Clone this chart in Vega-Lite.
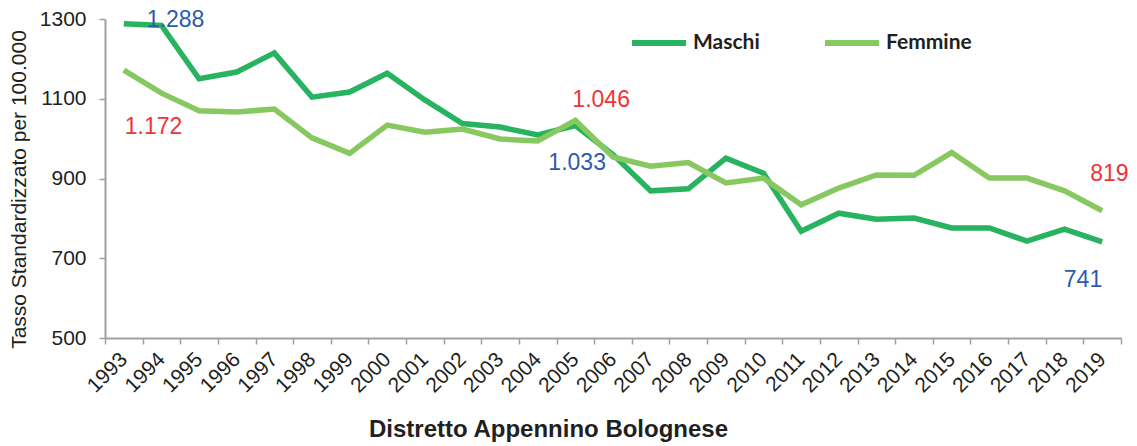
{
  "$schema": "https://vega.github.io/schema/vega-lite/v6.json",
  "width": 1016,
  "height": 319,
  "autosize": "none",
  "padding": {"left": 105, "top": 19, "right": 16, "bottom": 108},
  "background": "white",
  "config": {
    "view": {"stroke": null},
    "font": "Liberation Sans"
  },
  "datasets": {
    "serie": [
      {"anno": "1993", "sesso": "Maschi", "tasso": 1288}, {"anno": "1993", "sesso": "Femmine", "tasso": 1172},
      {"anno": "1994", "sesso": "Maschi", "tasso": 1284}, {"anno": "1994", "sesso": "Femmine", "tasso": 1114},
      {"anno": "1995", "sesso": "Maschi", "tasso": 1150}, {"anno": "1995", "sesso": "Femmine", "tasso": 1070},
      {"anno": "1996", "sesso": "Maschi", "tasso": 1167}, {"anno": "1996", "sesso": "Femmine", "tasso": 1067},
      {"anno": "1997", "sesso": "Maschi", "tasso": 1215}, {"anno": "1997", "sesso": "Femmine", "tasso": 1074},
      {"anno": "1998", "sesso": "Maschi", "tasso": 1104}, {"anno": "1998", "sesso": "Femmine", "tasso": 1002},
      {"anno": "1999", "sesso": "Maschi", "tasso": 1117}, {"anno": "1999", "sesso": "Femmine", "tasso": 963},
      {"anno": "2000", "sesso": "Maschi", "tasso": 1164}, {"anno": "2000", "sesso": "Femmine", "tasso": 1034},
      {"anno": "2001", "sesso": "Maschi", "tasso": 1097}, {"anno": "2001", "sesso": "Femmine", "tasso": 1016},
      {"anno": "2002", "sesso": "Maschi", "tasso": 1038}, {"anno": "2002", "sesso": "Femmine", "tasso": 1024},
      {"anno": "2003", "sesso": "Maschi", "tasso": 1029}, {"anno": "2003", "sesso": "Femmine", "tasso": 999},
      {"anno": "2004", "sesso": "Maschi", "tasso": 1009}, {"anno": "2004", "sesso": "Femmine", "tasso": 994},
      {"anno": "2005", "sesso": "Maschi", "tasso": 1033}, {"anno": "2005", "sesso": "Femmine", "tasso": 1046},
      {"anno": "2006", "sesso": "Maschi", "tasso": 960}, {"anno": "2006", "sesso": "Femmine", "tasso": 954},
      {"anno": "2007", "sesso": "Maschi", "tasso": 869}, {"anno": "2007", "sesso": "Femmine", "tasso": 931},
      {"anno": "2008", "sesso": "Maschi", "tasso": 874}, {"anno": "2008", "sesso": "Femmine", "tasso": 940},
      {"anno": "2009", "sesso": "Maschi", "tasso": 951}, {"anno": "2009", "sesso": "Femmine", "tasso": 889},
      {"anno": "2010", "sesso": "Maschi", "tasso": 913}, {"anno": "2010", "sesso": "Femmine", "tasso": 901},
      {"anno": "2011", "sesso": "Maschi", "tasso": 768}, {"anno": "2011", "sesso": "Femmine", "tasso": 834},
      {"anno": "2012", "sesso": "Maschi", "tasso": 813}, {"anno": "2012", "sesso": "Femmine", "tasso": 876},
      {"anno": "2013", "sesso": "Maschi", "tasso": 798}, {"anno": "2013", "sesso": "Femmine", "tasso": 909},
      {"anno": "2014", "sesso": "Maschi", "tasso": 801}, {"anno": "2014", "sesso": "Femmine", "tasso": 908},
      {"anno": "2015", "sesso": "Maschi", "tasso": 776}, {"anno": "2015", "sesso": "Femmine", "tasso": 965},
      {"anno": "2016", "sesso": "Maschi", "tasso": 776}, {"anno": "2016", "sesso": "Femmine", "tasso": 901},
      {"anno": "2017", "sesso": "Maschi", "tasso": 743}, {"anno": "2017", "sesso": "Femmine", "tasso": 901},
      {"anno": "2018", "sesso": "Maschi", "tasso": 773}, {"anno": "2018", "sesso": "Femmine", "tasso": 869},
      {"anno": "2019", "sesso": "Maschi", "tasso": 741}, {"anno": "2019", "sesso": "Femmine", "tasso": 819}
    ],
    "etichette": [
      {"anno": "1993", "sesso": "Maschi", "tasso": 1288, "testo": "1.288"},
      {"anno": "1993", "sesso": "Femmine", "tasso": 1172, "testo": "1.172"},
      {"anno": "2005", "sesso": "Femmine", "tasso": 1046, "testo": "1.046"},
      {"anno": "2005", "sesso": "Maschi", "tasso": 1033, "testo": "1.033"},
      {"anno": "2019", "sesso": "Femmine", "tasso": 819, "testo": "819"},
      {"anno": "2019", "sesso": "Maschi", "tasso": 741, "testo": "741"}
    ]
  },
  "encoding": {
    "x": {
      "field": "anno", "type": "ordinal", "sort": "ascending",
      "scale": {"type": "band", "paddingInner": 0, "paddingOuter": 0},
      "axis": {
        "title": "Distretto Appennino Bolognese",
        "titleFont": "Liberation Sans", "titleFontSize": 24, "titleFontWeight": "bold", "titleColor": "#231f20",
        "titlePadding": 21, "titleX": 443,
        "labelAngle": -45, "labelAlign": "right", "labelBaseline": "middle",
        "labelFontSize": 21, "labelColor": "#231f20", "labelPadding": 12, "labelFont": "Liberation Sans",
        "tickBand": "extent", "tickSize": 6, "tickColor": "#a0a0a0", "tickWidth": 1.5,
        "domainColor": "#a0a0a0", "domainWidth": 2, "grid": false
      }
    },
    "y": {
      "field": "tasso", "type": "quantitative",
      "scale": {"domain": [500, 1300], "nice": false, "zero": false},
      "axis": {
        "title": "Tasso Standardizzato per 100.000",
        "titleFont": "Liberation Sans", "titleFontSize": 21, "titleFontWeight": "normal", "titleColor": "#231f20",
        "titleX": -76, "titleY": 170,
        "values": [500, 700, 900, 1100, 1300], "format": "d",
        "labelFontSize": 21, "labelColor": "#231f20", "labelPadding": 13, "labelFont": "Liberation Sans",
        "tickSize": 6, "tickColor": "#a0a0a0", "tickWidth": 1.5,
        "domainColor": "#a0a0a0", "domainWidth": 2, "grid": false
      }
    }
  },
  "layer": [
    {
      "data": {"name": "serie"},
      "mark": {"type": "line", "strokeWidth": 5.5, "strokeJoin": "miter"},
      "encoding": {
        "color": {
          "field": "sesso", "type": "nominal",
          "scale": {"domain": ["Maschi", "Femmine"], "range": ["#27b35f", "#88c861"]},
          "legend": {
            "title": null, "orient": "none", "direction": "horizontal",
            "legendX": 524, "legendY": -6,
            "symbolType": "stroke", "symbolSize": 2916, "symbolStrokeWidth": 6,
            "labelFont": "Lato", "labelFontWeight": "bold", "labelFontSize": 21, "labelColor": "#231f20",
            "labelOffset": 4, "columnPadding": 53, "symbolOffset": 0
          }
        }
      }
    },
    {
      "data": {"name": "etichette"},
      "transform": [{"filter": "datum.testo == '1.288'"}],
      "mark": {"type": "text", "align": "left", "baseline": "middle", "dx": 23, "dy": -4, "fontSize": 23, "color": "#2b5cab", "font": "Liberation Sans"},
      "encoding": {"text": {"field": "testo"}}
    },
    {
      "data": {"name": "etichette"},
      "transform": [{"filter": "datum.testo == '1.172'"}],
      "mark": {"type": "text", "align": "left", "baseline": "middle", "dx": 1, "dy": 57, "fontSize": 23, "color": "#ee3535", "font": "Liberation Sans"},
      "encoding": {"text": {"field": "testo"}}
    },
    {
      "data": {"name": "etichette"},
      "transform": [{"filter": "datum.testo == '1.046'"}],
      "mark": {"type": "text", "align": "left", "baseline": "middle", "dx": -3, "dy": -20, "fontSize": 23, "color": "#ee3535", "font": "Liberation Sans"},
      "encoding": {"text": {"field": "testo"}}
    },
    {
      "data": {"name": "etichette"},
      "transform": [{"filter": "datum.testo == '1.033'"}],
      "mark": {"type": "text", "align": "left", "baseline": "middle", "dx": -27, "dy": 38, "fontSize": 23, "color": "#2b5cab", "font": "Liberation Sans"},
      "encoding": {"text": {"field": "testo"}}
    },
    {
      "data": {"name": "etichette"},
      "transform": [{"filter": "datum.testo == '819'"}],
      "mark": {"type": "text", "align": "left", "baseline": "middle", "dx": -12, "dy": -37, "fontSize": 23, "color": "#ee3535", "font": "Liberation Sans"},
      "encoding": {"text": {"field": "testo"}}
    },
    {
      "data": {"name": "etichette"},
      "transform": [{"filter": "datum.testo == '741'"}],
      "mark": {"type": "text", "align": "right", "baseline": "middle", "dx": 0, "dy": 38, "fontSize": 23, "color": "#2b5cab", "font": "Liberation Sans"},
      "encoding": {"text": {"field": "testo"}}
    }
  ]
}
